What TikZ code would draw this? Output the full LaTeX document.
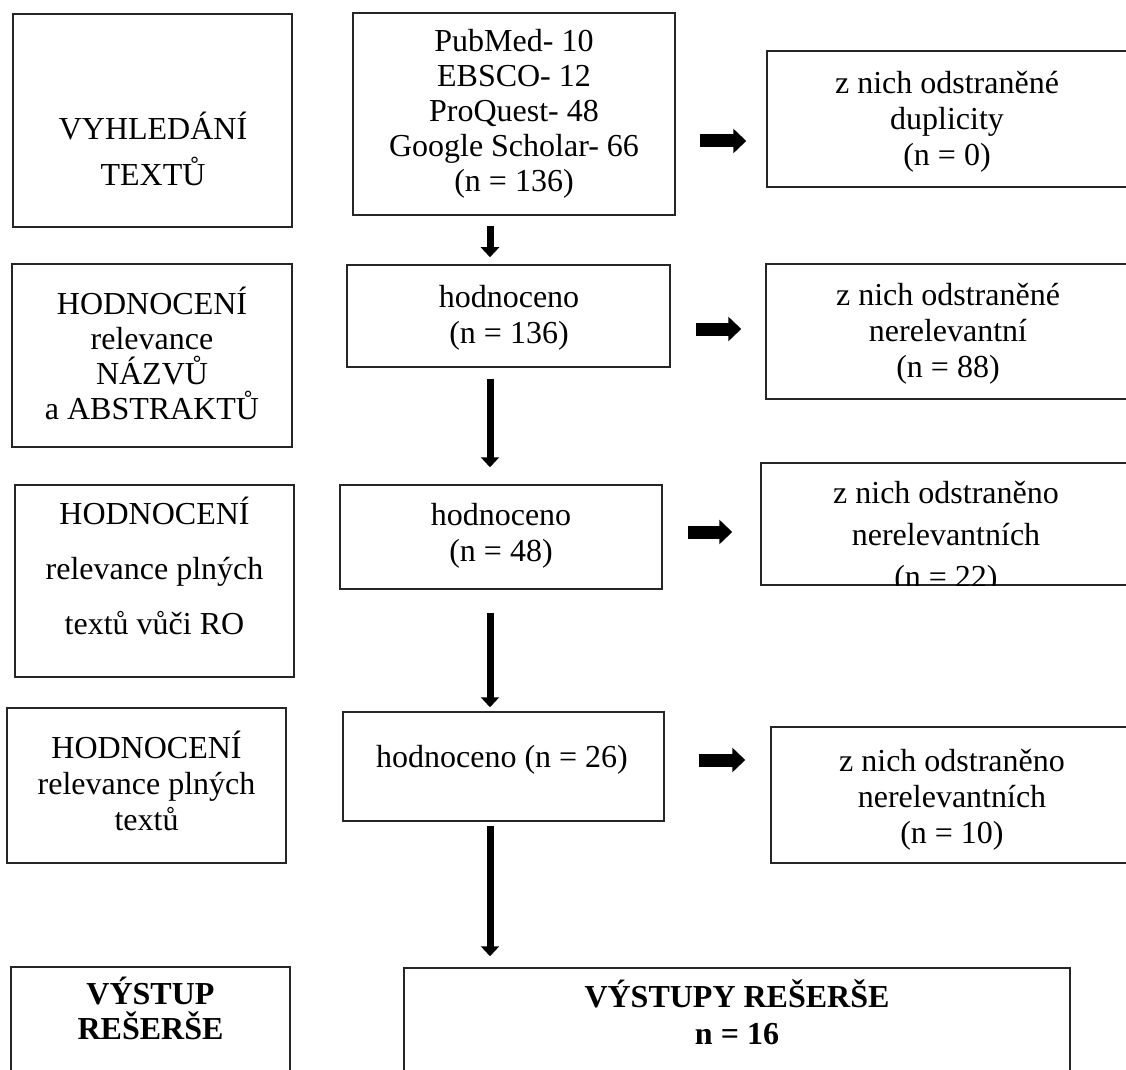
\documentclass[tikz,border=0pt]{standalone}
\usepackage{fontspec}
\setmainfont{Liberation Serif}
\usetikzlibrary{arrows.meta}

\begin{document}
\begin{tikzpicture}[x=0.5pt, y=-0.5pt,
  box/.style={draw=black!85, line width=0.75pt, inner sep=0pt},
  txt/.style={align=center, inner sep=0pt, font=\fontsize{16}{18}\selectfont},
  down/.style={line width=3.5pt, -{Triangle[width=9pt,length=5pt]}},
  side/.style={line width=6.5pt, -{Triangle[width=12pt,length=6.5pt]}}]
  \useasboundingbox (0,0) rectangle (1126,1070);
  \clip (0,0) rectangle (1126,1070);
  \coordinate (col) at (490,0);
  \coordinate (r1) at (0,141);
  \coordinate (r2) at (0,329);
  \coordinate (r3) at (0,532);
  \coordinate (r4) at (0,760);
  % left column
  \node[box, minimum width=139.5pt, minimum height=106.5pt] (find) at (152.5,120.5) {};
  \node[txt, font=\fontsize{16}{23}\selectfont] (findtxt) at (153,149) {VYHLEDÁNÍ\\TEXTŮ};
  \node[box, minimum width=140pt, minimum height=91.5pt] (step1) at (152,355.5) {};
  \node[txt, font=\fontsize{16}{17.5}\selectfont] (step1txt) at (152,353) {HODNOCENÍ\\relevance\\NÁZVŮ\\a ABSTRAKTŮ};
  \node[box, minimum width=139.5pt, minimum height=96pt] (step2) at (154.5,581) {};
  \node[txt, font=\fontsize{16}{27.5}\selectfont] (step2txt) at (154.5,565.5) {HODNOCENÍ\\relevance plných\\textů vůči RO};
  \node[box, minimum width=139.5pt, minimum height=77.5pt] (step3) at (146.5,785.5) {};
  \node[txt] (step3txt) at (146.5,781) {HODNOCENÍ\\relevance plných\\textů};
  \node[box, minimum width=139.5pt, minimum height=56.5pt] (result) at (150.5,1023.5) {};
  \node[txt, font=\fontsize{16}{17.5}\selectfont\bfseries] (resulttxt) at (150.5,1008) {VÝSTUP\\REŠERŠE};
  % middle column
  \node[box, minimum width=161pt, minimum height=101pt] (found) at (514,114) {};
  \node[txt, font=\fontsize{16}{17.5}\selectfont] (foundtxt) at (514,114) {PubMed- 10\\EBSCO- 12\\ProQuest- 48\\Google Scholar- 66\\(n = 136)};
  \node[box, minimum width=161.5pt, minimum height=51pt] (eval1) at (508.5,316) {};
  \node[txt] (eval1txt) at (509,317.5) {hodnoceno\\(n = 136)};
  \node[box, minimum width=161pt, minimum height=52pt] (eval2) at (501,537) {};
  \node[txt] (eval2txt) at (501,536) {hodnoceno\\(n = 48)};
  \node[box, minimum width=160.5pt, minimum height=54.5pt] (eval3) at (503.5,766.5) {};
  \node[txt] (eval3txt) at (502,759.5) {hodnoceno (n = 26)};
  \node[box, minimum width=333pt, minimum height=56pt] (final) at (737,1024) {};
  \node[txt, font=\fontsize{16}{18.5}\selectfont\bfseries] (finaltxt) at (737,1012) {VÝSTUPY REŠERŠE\\n = 16};
  % right column
  \node[box, minimum width=180.5pt, minimum height=68pt] (out1) at (947.5,119) {};
  \node[txt] (out1txt) at (947,121.5) {z nich odstraněné\\duplicity\\(n = 0)};
  \node[box, minimum width=181pt, minimum height=67.5pt] (out2) at (947,331.5) {};
  \node[txt] (out2txt) at (948,333.5) {z nich odstraněné\\nerelevantní\\(n = 88)};
  \node[box, minimum width=183.5pt, minimum height=61pt] (out3) at (944.5,524) {};
  \begin{scope}
    \clip (out3.north west) rectangle (out3.south east);
    \node[txt, font=\fontsize{16}{21}\selectfont] (out3txt) at (946,537.5) {z nich odstraněno\\nerelevantních\\(n = 22)};
  \end{scope}
  \node[box, minimum width=178.5pt, minimum height=68pt] (out4) at (949.5,795) {};
  \node[txt] (out4txt) at (952,799.5) {z nich odstraněno\\nerelevantních\\(n = 10)};
  % arrows
  \draw[down, shorten <=5pt, shorten >=3.5pt] (found.south -| col) -- (eval1.north -| col);
  \draw[down, shorten <=5.5pt, shorten >=8.5pt] (eval1.south -| col) -- (eval2.north -| col);
  \draw[down, shorten <=11.5pt, shorten >=2pt] (eval2.south -| col) -- (eval3.north -| col);
  \draw[down, shorten <=2pt, shorten >=5.5pt] (eval3.south -| col) -- (final.north -| col);
  \draw[side, shorten <=12pt, shorten >=10pt] (found.east |- r1) -- (out1.west |- r1);
  \draw[side, shorten <=12.5pt, shorten >=12pt] (eval1.east |- r2) -- (out2.west |- r2);
  \draw[side, shorten <=12.5pt, shorten >=14pt] (eval2.east |- r3) -- (out3.west |- r3);
  \draw[side, shorten <=17pt, shorten >=12.5pt] (eval3.east |- r4) -- (out4.west |- r4);
\end{tikzpicture}
\end{document}
